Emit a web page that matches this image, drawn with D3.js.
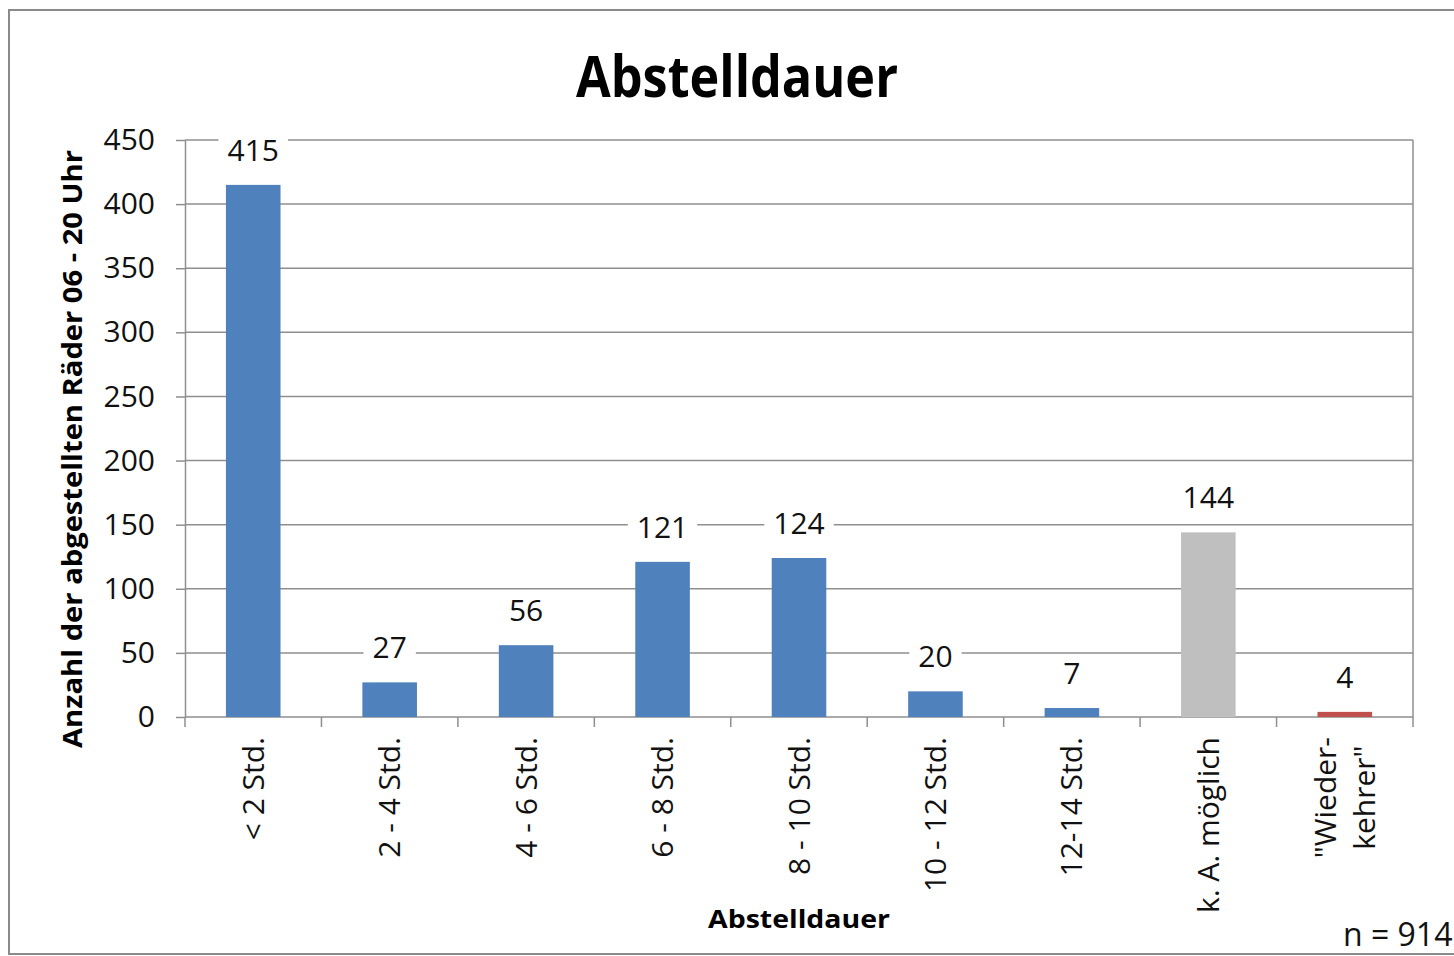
<!DOCTYPE html>
<html>
<head>
<meta charset="utf-8">
<script src="https://cdn.jsdelivr.net/npm/d3@7"></script>
<style>
    html, body { margin: 0; padding: 0; background: #ffffff; }
    #chart { width: 1454px; height: 956px; overflow: hidden; }
</style>
</head>
<body>
<div id="chart"></div>
<script>
// Abstelldauer - Anzahl der abgestellten Räder je Dauerklasse

var categories = ["< 2 Std.", "2 - 4 Std.", "4 - 6 Std.", "6 - 8 Std.", "8 - 10 Std.",
    "10 - 12 Std.", "12-14 Std.", "k. A. möglich", "\"Wieder-|kehrer\""];
var values = [415, 27, 56, 121, 124, 20, 7, 144, 4];
var barColors = ["#4f81bd", "#4f81bd", "#4f81bd", "#4f81bd", "#4f81bd",
    "#4f81bd", "#4f81bd", "#bfbfbf", "#c0504d"];
var yTicks = [0, 50, 100, 150, 200, 250, 300, 350, 400, 450];

(function() {

    var width = 1454;
    var height = 956;
    var font = "'Open Sans', 'DejaVu Sans', sans-serif";
    var gridColor = "#8f8f8f";
    var textColor = "#111111";

    var plot = { left: 185, right: 1413, top: 140, bottom: 717 };

    var svg = d3.select("#chart")
        .append("svg")
        .attr("width", width)
        .attr("height", height)
        .style("font-family", font);

    svg.append("rect")
        .attr("width", width)
        .attr("height", height)
        .attr("fill", "#ffffff");

    // Outer chart frame (runs off the right edge)
    svg.append("rect")
        .attr("x", 9)
        .attr("y", 10)
        .attr("width", 1470)
        .attr("height", 944)
        .attr("fill", "none")
        .attr("stroke", "#8a8a8a")
        .attr("stroke-width", 2);

    var x = d3.scaleBand()
        .domain(categories)
        .range([plot.left, plot.right])
        .paddingInner(0.6)
        .paddingOuter(0.3);

    var y = d3.scaleLinear()
        .domain([0, 450])
        .range([plot.bottom, plot.top]);

    var step = x.step();

    // Gridlines
    svg.append("g")
        .selectAll("line")
        .data(yTicks.filter(function(d) { return d > 0; }))
        .enter()
        .append("line")
        .attr("x1", plot.left)
        .attr("x2", plot.right)
        .attr("y1", function(d) { return y(d); })
        .attr("y2", function(d) { return y(d); })
        .attr("stroke", gridColor)
        .attr("stroke-width", 1.5);

    // Right border of plot area
    svg.append("line")
        .attr("x1", plot.right)
        .attr("x2", plot.right)
        .attr("y1", plot.top)
        .attr("y2", plot.bottom)
        .attr("stroke", gridColor)
        .attr("stroke-width", 1.5);

    // Y axis
    var yAxis = svg.append("g")
        .attr("transform", "translate(" + plot.left + ",0)")
        .call(d3.axisLeft(y).tickValues(yTicks).tickSize(9).tickPadding(21).tickSizeOuter(0));

    yAxis.select(".domain").attr("stroke", gridColor).attr("stroke-width", 1.5);
    yAxis.selectAll(".tick line").attr("stroke", gridColor).attr("stroke-width", 1.5);
    yAxis.selectAll(".tick text")
        .attr("font-size", "30px")
        .attr("font-family", font)
        .attr("fill", textColor);

    // X axis line and category boundary ticks
    svg.append("line")
        .attr("x1", plot.left)
        .attr("x2", plot.right)
        .attr("y1", plot.bottom)
        .attr("y2", plot.bottom)
        .attr("stroke", gridColor)
        .attr("stroke-width", 1.5);

    var boundaries = categories.map(function(d) { return x(d) - (step - x.bandwidth()) / 2; });
    boundaries.push(plot.right);

    svg.append("g")
        .selectAll("line")
        .data(boundaries)
        .enter()
        .append("line")
        .attr("x1", function(d) { return d; })
        .attr("x2", function(d) { return d; })
        .attr("y1", plot.bottom)
        .attr("y2", plot.bottom + 10)
        .attr("stroke", gridColor)
        .attr("stroke-width", 1.5);

    // Bars
    svg.append("g")
        .selectAll("rect")
        .data(values)
        .enter()
        .append("rect")
        .attr("x", function(d, i) { return x(categories[i]); })
        .attr("y", function(d) { return y(d); })
        .attr("width", x.bandwidth())
        .attr("height", function(d) { return y(0) - y(d); })
        .attr("fill", function(d, i) { return barColors[i]; });

    // Data labels with white background that cuts the gridlines
    var labels = svg.append("g")
        .selectAll("g")
        .data(values)
        .enter()
        .append("g");

    labels.append("text")
        .attr("x", function(d, i) { return x(categories[i]) + x.bandwidth() / 2; })
        .attr("y", function(d) { return y(d) - 24; })
        .attr("text-anchor", "middle")
        .attr("font-size", "30px")
        .attr("fill", textColor)
        .text(function(d) { return d; });

    labels.each(function() {
        var g = d3.select(this);
        var box = g.select("text").node().getBBox();
        g.insert("rect", "text")
            .attr("x", box.x - 9)
            .attr("y", box.y + 2)
            .attr("width", box.width + 18)
            .attr("height", box.height - 4)
            .attr("fill", "#ffffff");
    });

    // Category labels, rotated
    var catGroup = svg.append("g");

    categories.forEach(function(c, i) {
        var cx = x(c) + x.bandwidth() / 2;
        var lines = c.split("|");
        var lineGap = 39;
        var top = plot.bottom + 20;

        var texts = lines.map(function(line, k) {
            var off = (k - (lines.length - 1) / 2) * lineGap;
            return catGroup.append("text")
                .attr("transform", "translate(" + (cx + off) + "," + top + ") rotate(-90)")
                .attr("dy", "0.35em")
                .attr("text-anchor", "end")
                .attr("font-size", "30px")
                .attr("fill", textColor)
                .text(line);
        });

        if (texts.length > 1) {
            var lens = texts.map(function(t) { return t.node().getComputedTextLength(); });
            var maxLen = d3.max(lens);
            texts.forEach(function(t, k) {
                var off = (k - (lines.length - 1) / 2) * lineGap;
                var shift = (maxLen - lens[k]) / 2;
                t.attr("transform", "translate(" + (cx + off) + "," + (top + shift) + ") rotate(-90)");
            });
        }
    });

    // Title
    svg.append("text")
        .attr("x", 737)
        .attr("y", 97)
        .attr("text-anchor", "middle")
        .attr("font-size", "58px")
        .attr("font-weight", "bold")
        .attr("fill", "#000000")
        .attr("textLength", 322)
        .attr("lengthAdjust", "spacingAndGlyphs")
        .text("Abstelldauer");

    // Axis titles
    svg.append("text")
        .attr("x", (plot.left + plot.right) / 2)
        .attr("y", 928)
        .attr("text-anchor", "middle")
        .attr("font-size", "25px")
        .attr("font-weight", "bold")
        .attr("fill", "#000000")
        .attr("textLength", 182)
        .attr("lengthAdjust", "spacingAndGlyphs")
        .text("Abstelldauer");

    svg.append("text")
        .attr("transform", "translate(82,449) rotate(-90)")
        .attr("text-anchor", "middle")
        .attr("font-size", "26px")
        .attr("font-weight", "bold")
        .attr("fill", "#000000")
        .attr("textLength", 598)
        .attr("lengthAdjust", "spacingAndGlyphs")
        .text("Anzahl der abgestellten Räder 06 - 20 Uhr");

    // Sample size note (cut off at the right edge, as in the source)
    svg.append("text")
        .attr("x", 1343)
        .attr("y", 946)
        .attr("font-size", "32px")
        .attr("fill", textColor)
        .text("n = 914");

})();
</script>
</body>
</html>
